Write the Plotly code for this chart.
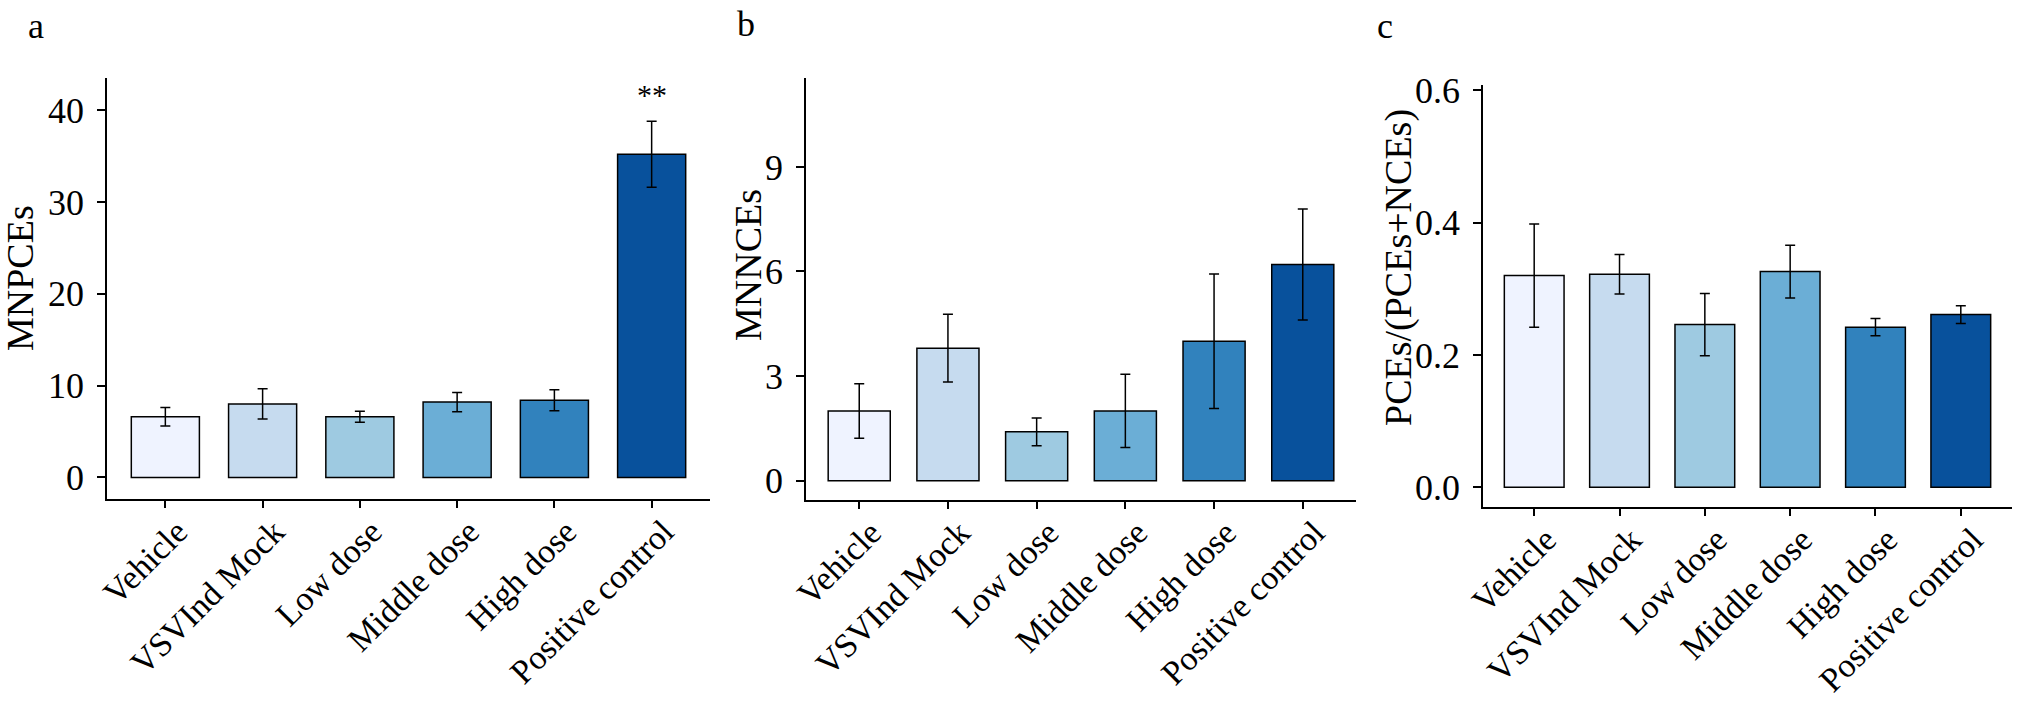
import plotly.graph_objects as go

categories = ["Vehicle", "VSVInd Mock", "Low dose", "Middle dose", "High dose", "Positive control"]
colors = ["#EFF3FF", "#C6DBEF", "#9ECAE1", "#6BAED6", "#3182BD", "#08519C"]

mnpce_mean = [6.6, 8.0, 6.6, 8.2, 8.4, 35.2]
mnpce_err = [1.0, 1.65, 0.6, 1.05, 1.15, 3.6]

mnnce_mean = [2.0, 3.8, 1.4, 2.0, 4.0, 6.2]
mnnce_err = [0.78, 0.97, 0.4, 1.05, 1.93, 1.59]

ratio_mean = [0.320, 0.322, 0.246, 0.326, 0.242, 0.261]
ratio_err = [0.078, 0.030, 0.047, 0.040, 0.013, 0.0135]

W, H = 2018, 707
FONT = "Liberation Serif"

fig = go.Figure()

panels = [
    dict(mean=mnpce_mean, err=mnpce_err, xa="x", ya="y"),
    dict(mean=mnnce_mean, err=mnnce_err, xa="x2", ya="y2"),
    dict(mean=ratio_mean, err=ratio_err, xa="x3", ya="y3"),
]
for p in panels:
    fig.add_trace(go.Bar(
        x=categories, y=p["mean"], xaxis=p["xa"], yaxis=p["ya"],
        width=0.7,
        marker=dict(color=colors, line=dict(color="black", width=1.5)),
        error_y=dict(type="data", array=p["err"], visible=True,
                     color="black", thickness=1.5, width=5),
        showlegend=False,
    ))

def px_x(a, b):
    return [a / W, b / W]

def px_y(top, bottom):
    return [1 - bottom / H, 1 - top / H]

common_x = dict(
    type="category", range=[-0.6, 5.6], showline=True, linecolor="black", linewidth=1.5,
    ticks="outside", ticklen=8, tickwidth=1.5, tickcolor="black", tickangle=-45,
    ticklabelstandoff=-10, ticklabelshift=12,
    tickfont=dict(family=FONT, size=34, color="black"), showgrid=False, zeroline=False,
    automargin=False,
)
common_y = dict(
    showline=True, linecolor="black", linewidth=1.5,
    ticks="outside", ticklen=8, tickwidth=1.5, tickcolor="black", ticklabelstandoff=6,
    tickfont=dict(family=FONT, size=36, color="black"), showgrid=False, zeroline=False,
    automargin=False,
)

fig.update_layout(
    width=W, height=H,
    margin=dict(l=0, r=0, t=0, b=0, autoexpand=False),
    plot_bgcolor="white", paper_bgcolor="white",
    font=dict(family=FONT, color="black"),
    xaxis=dict(common_x, domain=px_x(107, 710), anchor="y"),
    yaxis=dict(common_y, domain=px_y(78, 498.5), anchor="x", range=[-2.3, 43.5],
               tickvals=[0, 10, 20, 30, 40]),
    xaxis2=dict(common_x, domain=px_x(806, 1356), anchor="y2"),
    yaxis2=dict(common_y, domain=px_y(78, 499.5), anchor="x2", range=[-0.54, 11.55],
                tickvals=[0, 3, 6, 9]),
    xaxis3=dict(common_x, domain=px_x(1483, 2012), anchor="y3"),
    yaxis3=dict(common_y, domain=px_y(85, 506.5), anchor="x3", range=[-0.029, 0.608],
                tickvals=[0.0, 0.2, 0.4, 0.6], tickformat=".1f"),
)

ann = []
# panel letters
for txt, x, y in [("a", 36, 26), ("b", 746, 24), ("c", 1385, 26)]:
    ann.append(dict(text=txt, x=x / W, y=1 - y / H, xref="paper", yref="paper",
                    showarrow=False, xanchor="center", yanchor="middle",
                    font=dict(family=FONT, size=36, color="black")))
# axis titles
for txt, x, y in [("MNPCEs", 20, 278), ("MNNCEs", 748, 265), ("PCEs/(PCEs+NCEs)", 1398, 268)]:
    ann.append(dict(text=txt, x=x / W, y=1 - y / H, xref="paper", yref="paper",
                    showarrow=False, xanchor="center", yanchor="middle", textangle=-90,
                    font=dict(family=FONT, size=38, color="black")))
# significance marker
ann.append(dict(text="**", x=categories[5], y=mnpce_mean[5] + mnpce_err[5],
                xref="x", yref="y", showarrow=False, xanchor="center", yanchor="bottom",
                yshift=8, font=dict(family=FONT, size=30, color="black")))
fig.update_layout(annotations=ann)

fig.write_html("out.html")
